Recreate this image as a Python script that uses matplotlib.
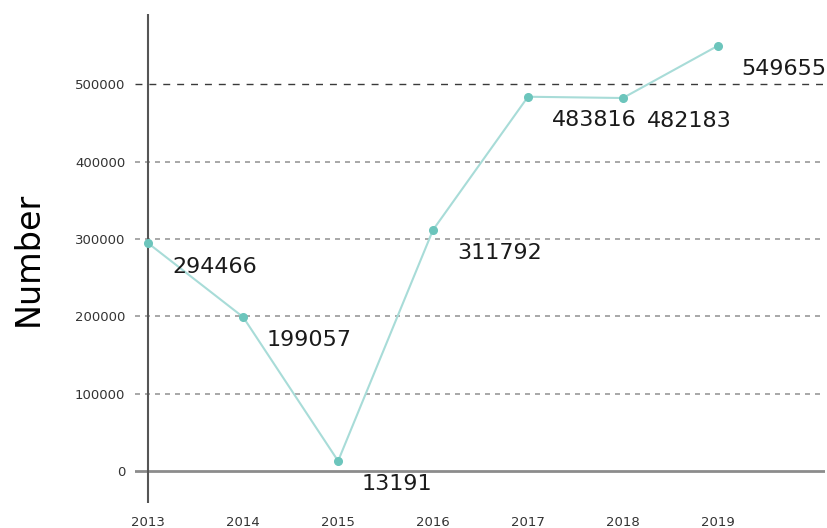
import matplotlib.pyplot as plt

years = [2013, 2014, 2015, 2016, 2017, 2018, 2019]
numbers = [294466, 199057, 13191, 311792, 483816, 482183, 549655]
yticks = [0, 100000, 200000, 300000, 400000, 500000]


def plot_numbers():
    fig = plt.figure(figsize=(8.28, 5.28), dpi=100)
    ax = fig.add_axes([0.163, 0.047, 0.8335, 0.926])

    # dashed reference lines
    for y in yticks[1:-1]:
        ax.axhline(y, color="#9a9a9a", linewidth=1.2, dashes=(3, 3), zorder=1)
    ax.axhline(yticks[-1], color="#3a3a3a", linewidth=1.0, dashes=(5, 5), zorder=1)
    ax.axhline(0, color="#8c8c8c", linewidth=2, zorder=2)
    ax.axvline(years[0], color="#555555", linewidth=1.5, zorder=2)

    ax.plot(years, numbers, color="#a8dcd8", linewidth=1.5, zorder=3)
    ax.plot(years, numbers, "o", color="#6cc5bc", markersize=5.5, zorder=4)
    for x, y in zip(years, numbers):
        ax.text(x + 0.25, y - 30000, str(y), fontsize=16, color="#1a1a1a",
                ha="left", va="center")

    ax.set_xlim(2012.86, 2020.13)
    ax.set_ylim(-41350, 590400)
    ax.set_xticks(years)
    ax.set_yticks(yticks)
    ax.tick_params(axis="both", length=0, labelsize=9.5, colors="#333333")
    ax.tick_params(axis="x", pad=9)
    ax.tick_params(axis="y", pad=7)
    for s in ax.spines.values():
        s.set_visible(False)
    ax.set_ylabel("Number", fontsize=24)
    ax.yaxis.set_label_coords(-0.131, 0.5)
    plt.savefig("out.png")


if __name__ == '__main__':
    plot_numbers()
